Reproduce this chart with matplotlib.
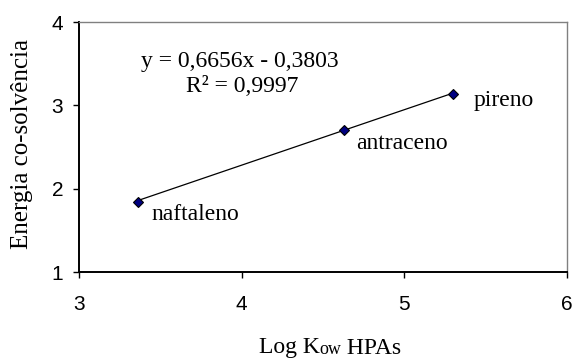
import matplotlib.pyplot as plt
from matplotlib.offsetbox import TextArea, HPacker, AnnotationBbox

# Log Kow dos HPAs e energia de co-solvência
compostos = ["naftaleno", "antraceno", "pireno"]
log_kow = [3.36, 4.63, 5.30]
energia = [1.84, 2.70, 3.14]

# Regressão linear (linha de tendência)
inclinacao = 0.6656
intercepto = -0.3803
r2 = 0.9997

serif = "Liberation Serif"
sans = "Liberation Sans"


def main():
    fig = plt.figure(figsize=(5.73, 3.62), dpi=100)
    ax = fig.add_axes([79 / 573, 1 - 272 / 362, (567 - 79) / 573, (272 - 22) / 362])

    xs = [min(log_kow), max(log_kow)]
    ys = [inclinacao * x + intercepto for x in xs]
    ax.plot(xs, ys, color="black", lw=0.9, zorder=2)
    ax.plot(log_kow, energia, linestyle="none", marker="D", markersize=5.5,
            markerfacecolor="#000080", markeredgecolor="black", markeredgewidth=0.8,
            zorder=3)

    offsets = {"naftaleno": (14, -13), "antraceno": (12, -13), "pireno": (20, -7)}
    for nome, x, y in zip(compostos, log_kow, energia):
        ax.annotate(nome, (x, y), xytext=offsets[nome], textcoords="offset pixels",
                    ha="left", va="center", fontsize=17, family=serif)

    ax.text(240 / 573, 1 - 62 / 362,
            f"y = {inclinacao:.4f}x - {abs(intercepto):.4f}".replace(".", ","),
            transform=fig.transFigure, ha="center", va="center",
            fontsize=17, family=serif)
    ax.text(242 / 573, 1 - 87 / 362,
            f"R² = {r2:.4f}".replace(".", ","),
            transform=fig.transFigure, ha="center", va="center",
            fontsize=17, family=serif)

    ax.set_xlim(3, 6)
    ax.set_ylim(1, 4)
    ax.set_xticks([3, 4, 5, 6])
    ax.set_yticks([1, 2, 3, 4])
    ax.tick_params(direction="out", length=4.5, width=1, labelsize=15, color="black")
    ax.tick_params(axis="y", pad=7)
    ax.tick_params(axis="x", pad=12)
    for lbl in ax.get_xticklabels() + ax.get_yticklabels():
        lbl.set_fontfamily(sans)

    for side in ["left", "bottom"]:
        ax.spines[side].set_color("black")
        ax.spines[side].set_linewidth(1.4)
    for side in ["top", "right"]:
        ax.spines[side].set_color("#808080")
        ax.spines[side].set_linewidth(1.0)

    fig.text(22 / 573, 1 - 144 / 362, "Energia co-solvência", rotation=90,
             ha="center", va="center", fontsize=18, family=serif)

    # Rótulo do eixo x com "ow" menor na mesma linha de base
    partes = [TextArea("Log K", textprops=dict(fontsize=17, family=serif)),
              TextArea("ow", textprops=dict(fontsize=13, family=serif)),
              TextArea(" HPAs", textprops=dict(fontsize=17, family=serif))]
    caixa = HPacker(children=partes, align="baseline", pad=0, sep=0)
    ab = AnnotationBbox(caixa, (330 / 573, 1 - 348 / 362), xycoords="figure fraction",
                        frameon=False, box_alignment=(0.5, 0.5))
    fig.add_artist(ab)

    fig.savefig("out.png", dpi=100)
    plt.close(fig)


if __name__ == "__main__":
    main()
